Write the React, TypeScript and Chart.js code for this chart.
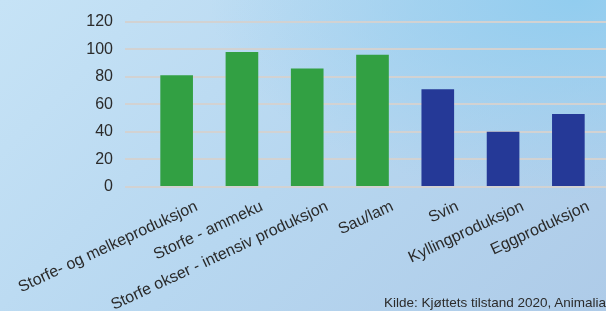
import React, { useEffect, useRef } from "react";
import { Chart, registerables } from "chart.js";

Chart.register(...registerables);

const categories: string[] = [
  "Storfe- og melkeproduksjon",
  "Storfe - ammeku",
  "Storfe okser - intensiv produksjon",
  "Sau/lam",
  "Svin",
  "Kyllingproduksjon",
  "Eggproduksjon",
];
const values: number[] = [81, 98, 86, 96, 71, 40, 53];
const barColors: string[] = ["#32a043", "#32a043", "#32a043", "#32a043", "#253997", "#253997", "#253997"];
const yTicks: number[] = [0, 20, 40, 60, 80, 100, 120];
const sourceText = "Kilde: Kjøttets tilstand 2020, Animalia";

const FONT = "'Liberation Sans', Arial, Helvetica, sans-serif";

export default function App() {
  const ref = useRef<HTMLCanvasElement | null>(null);

  useEffect(() => {
    if (!ref.current) return;
    const chart = new Chart(ref.current, {
      type: "bar",
      data: {
        labels: categories,
        datasets: [
          {
            data: values,
            backgroundColor: barColors,
            borderWidth: 0,
            barPercentage: 0.5,
            categoryPercentage: 1,
          },
        ],
      },
      options: {
        responsive: false,
        animation: false,
        layout: { padding: { top: 20, right: 0, bottom: 0, left: 0 } },
        plugins: {
          legend: { display: false },
          tooltip: { enabled: false },
        },
        scales: {
          x: {
            grid: { display: false, drawTicks: false },
            border: { display: false },
            ticks: {
              autoSkip: false,
              maxRotation: 25,
              minRotation: 25,
              labelOffset: 20,
              padding: 10,
              color: "#2b2b2b",
              font: { family: FONT, size: 16 },
            },
            afterFit: (scale: any) => {
              scale.height = 124;
              scale.paddingLeft = 0;
              scale.paddingRight = 0;
            },
          },
          y: {
            min: 0,
            max: 120,
            afterBuildTicks: (scale: any) => {
              scale.ticks = yTicks.map((v) => ({ value: v }));
            },
            grid: { color: "#d2d2d2", lineWidth: 2, tickLength: 19, drawTicks: true },
            border: { display: false },
            ticks: {
              padding: 12,
              color: "#2b2b2b",
              font: { family: FONT, size: 16 },
            },
            afterFit: (scale: any) => {
              scale.width = 144;
            },
          },
          y2: {
            position: "right",
            min: 0,
            max: 120,
            afterBuildTicks: (scale: any) => {
              scale.ticks = yTicks.map((v) => ({ value: v }));
            },
            grid: { color: "#d2d2d2", lineWidth: 2, tickLength: 5, drawTicks: true, drawOnChartArea: false },
            border: { display: false },
            ticks: { display: false },
            afterFit: (scale: any) => {
              scale.width = 5;
            },
          },
        },
      },
    });
    return () => chart.destroy();
  }, []);

  return (
    <div
      style={{
        position: "fixed",
        left: 0,
        top: 0,
        width: 606,
        height: 311,
        overflow: "hidden",
        background:
          "radial-gradient(ellipse at 95% 0%, rgba(146,205,239,1) 0%, rgba(146,205,239,0) 45%), linear-gradient(135deg, #c6e3f6 0%, #b7d7f0 50%, #aecbe8 100%)",
      }}
    >
      <canvas ref={ref} width={606} height={311} style={{ position: "absolute", left: 0, top: 0 }} />
      <div
        style={{
          position: "absolute",
          left: 384,
          top: 295,
          whiteSpace: "nowrap",
          fontFamily: FONT,
          fontSize: 13.5,
          lineHeight: "16px",
          color: "#2b2b2b",
        }}
      >
        {sourceText}
      </div>
    </div>
  );
}
